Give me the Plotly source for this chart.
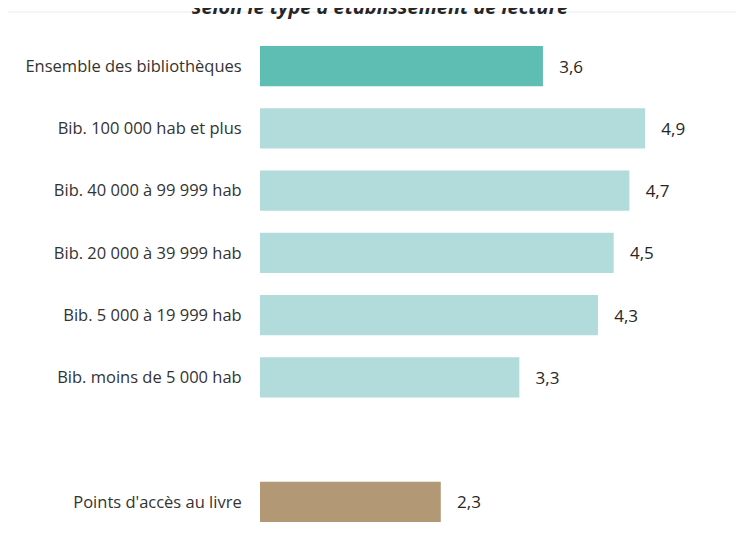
import plotly.graph_objs as go

categories = [
    "Ensemble des bibliothèques",
    "Bib. 100 000 hab et plus",
    "Bib. 40 000 à 99 999 hab",
    "Bib. 20 000 à 39 999 hab",
    "Bib. 5 000 à 19 999 hab",
    "Bib. moins de 5 000 hab",
    " ",
    "Points d'accès au livre",
]
values = [3.6, 4.9, 4.7, 4.5, 4.3, 3.3, None, 2.3]
bar_colors = ["#5fbeb4", "#b2dcdb", "#b2dcdb", "#b2dcdb",
              "#b2dcdb", "#b2dcdb", "#ffffff", "#b39875"]
labels = ["" if v is None else "   " + f"{v:.1f}".replace(".", ",") for v in values]

font_family = "Open Sans, Noto Sans, sans-serif"

trace = go.Bar(
    x=values,
    y=categories,
    orientation="h",
    marker=dict(color=bar_colors, line=dict(width=0)),
    width=0.65,
    text=labels,
    textposition="outside",
    textfont=dict(size=17, color="#262626", family=font_family),
    cliponaxis=False,
    hoverinfo="skip",
)

layout = go.Layout(
    width=744,
    height=547,
    margin=dict(l=252, r=0, t=27, b=22),
    paper_bgcolor="white",
    plot_bgcolor="white",
    showlegend=False,
    font=dict(family=font_family, size=16.5, color="#333333"),
    xaxis=dict(
        range=[0, 6.26],
        visible=False,
        fixedrange=True,
    ),
    yaxis=dict(
        type="category",
        categoryorder="array",
        categoryarray=categories,
        autorange="reversed",
        showgrid=False,
        zeroline=False,
        showline=False,
        ticks="outside",
        ticklen=14,
        tickcolor="rgba(0,0,0,0)",
    ),
    # title sits half off the top edge, as in the source image
    annotations=[
        dict(
            text="<b><i>selon le type d'établissement de lecture</i></b>",
            xref="paper", yref="paper",
            x=(372 - 252) / 492, y=1 + 28 / 498,
            xanchor="center", yanchor="middle",
            showarrow=False,
            font=dict(size=20, color="#262626", family=font_family),
        )
    ],
    shapes=[
        dict(
            type="line",
            xref="paper", yref="paper",
            x0=-252 / 492, x1=1.0,
            y0=1 + 23 / 498, y1=1 + 23 / 498,
            line=dict(color="#ebebeb", width=1),
        )
    ],
)

fig = go.Figure(data=[trace], layout=layout)
fig.write_html("out.html")
